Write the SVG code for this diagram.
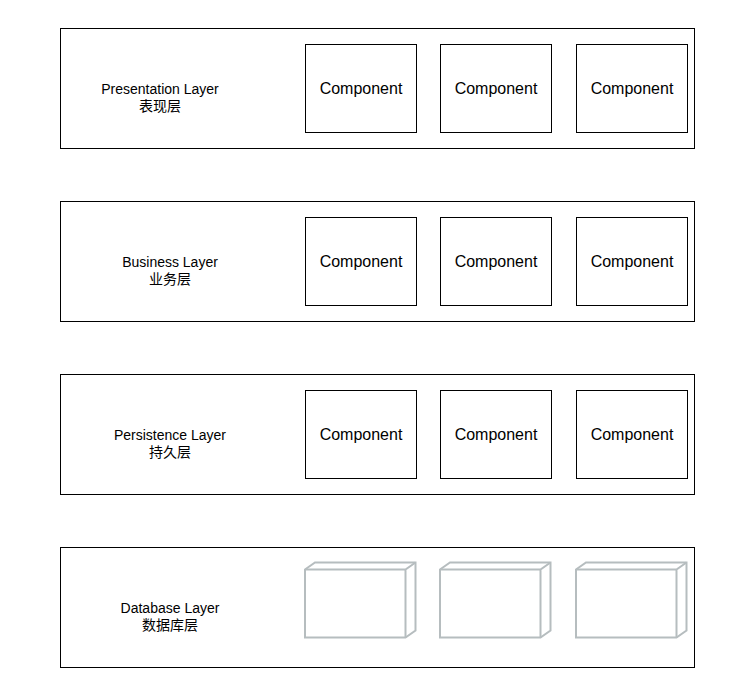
<svg xmlns="http://www.w3.org/2000/svg" width="736" height="687" viewBox="0 0 736 687">
<style>
.layer{fill:#fff;stroke:#000;stroke-width:1}
.comp{fill:#fff;stroke:#000;stroke-width:1}
.lbl{font-family:"Liberation Sans","Noto Sans CJK SC",sans-serif;font-size:14px;fill:#000;text-anchor:middle}
.ct{font-family:"Liberation Sans",sans-serif;font-size:16px;fill:#000;text-anchor:middle}
.cube{fill:#fff;stroke:#b6bdbf;stroke-width:2;stroke-linejoin:miter}
</style>
<rect width="736" height="687" fill="#fff"/>
<g id="presentation-layer">
<rect class="layer" x="60.5" y="28.5" width="634" height="120"/>
<text class="lbl" x="160" y="94">Presentation Layer</text>
<text class="lbl" x="160" y="111">表现层</text>
</g>
<g id="p-comp1"><rect class="comp" x="305.5" y="44.5" width="111" height="88"/><text class="ct" x="361" y="94">Component</text></g>
<g id="p-comp2"><rect class="comp" x="440.5" y="44.5" width="111" height="88"/><text class="ct" x="496" y="94">Component</text></g>
<g id="p-comp3"><rect class="comp" x="576.5" y="44.5" width="111" height="88"/><text class="ct" x="632" y="94">Component</text></g>

<g id="business-layer">
<rect class="layer" x="60.5" y="201.5" width="634" height="120"/>
<text class="lbl" x="170" y="267">Business Layer</text>
<text class="lbl" x="170" y="284">业务层</text>
</g>
<g id="b-comp1"><rect class="comp" x="305.5" y="217.5" width="111" height="88"/><text class="ct" x="361" y="267">Component</text></g>
<g id="b-comp2"><rect class="comp" x="440.5" y="217.5" width="111" height="88"/><text class="ct" x="496" y="267">Component</text></g>
<g id="b-comp3"><rect class="comp" x="576.5" y="217.5" width="111" height="88"/><text class="ct" x="632" y="267">Component</text></g>

<g id="persistence-layer">
<rect class="layer" x="60.5" y="374.5" width="634" height="120"/>
<text class="lbl" x="170" y="440">Persistence Layer</text>
<text class="lbl" x="170" y="457">持久层</text>
</g>
<g id="s-comp1"><rect class="comp" x="305.5" y="390.5" width="111" height="88"/><text class="ct" x="361" y="440">Component</text></g>
<g id="s-comp2"><rect class="comp" x="440.5" y="390.5" width="111" height="88"/><text class="ct" x="496" y="440">Component</text></g>
<g id="s-comp3"><rect class="comp" x="576.5" y="390.5" width="111" height="88"/><text class="ct" x="632" y="440">Component</text></g>

<g id="database-layer">
<rect class="layer" x="60.5" y="547.5" width="634" height="120"/>
<text class="lbl" x="170" y="613">Database Layer</text>
<text class="lbl" x="170" y="630">数据库层</text>
</g>
<g id="db-cube1" class="cube">
<path d="M305,569.5 L315,562.5 L415.5,562.5 L415.5,630.5 L405.5,637.5 L305,637.5 Z"/>
<path fill="none" d="M305,569.5 L405.5,569.5 L415.5,562.5 M405.5,569.5 L405.5,637.5"/>
</g>
<g id="db-cube2" class="cube">
<path d="M440,569.5 L450,562.5 L550.5,562.5 L550.5,630.5 L540.5,637.5 L440,637.5 Z"/>
<path fill="none" d="M440,569.5 L540.5,569.5 L550.5,562.5 M540.5,569.5 L540.5,637.5"/>
</g>
<g id="db-cube3" class="cube">
<path d="M576,569.5 L586,562.5 L686.5,562.5 L686.5,630.5 L676.5,637.5 L576,637.5 Z"/>
<path fill="none" d="M576,569.5 L676.5,569.5 L686.5,562.5 M676.5,569.5 L676.5,637.5"/>
</g>
<g id="connectors"></g>
</svg>
